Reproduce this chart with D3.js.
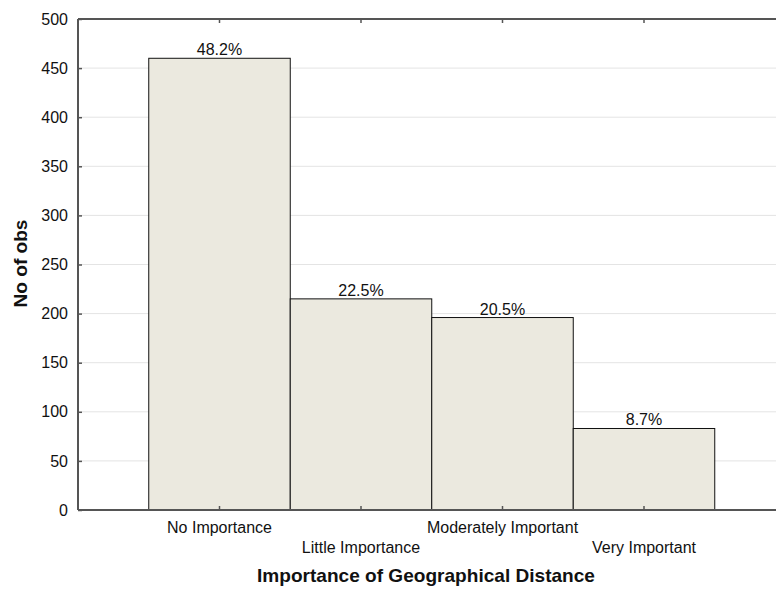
<!DOCTYPE html>
<html>
<head>
<meta charset="utf-8">
<script src="https://cdn.jsdelivr.net/npm/d3@7"></script>
<style>
  html, body { margin: 0; padding: 0; background: #fff; }
  svg { display: block; font-family: Arial, "Liberation Sans", sans-serif; }
</style>
</head>
<body>
<svg id="chart" width="776" height="590"></svg>
<script>
const categories = ["No Importance", "Little Importance", "Moderately Important", "Very Important"];
const counts = [460, 215, 196, 83];
const percentLabels = ["48.2%", "22.5%", "20.5%", "8.7%"];
const yTicks = [0, 50, 100, 150, 200, 250, 300, 350, 400, 450, 500];
const xTitle = "Importance of Geographical Distance";
const yTitle = "No of obs";

const svg = d3.select("#chart");
const plotLeft = 78, plotTop = 19, plotBottom = 510, plotRightEnd = 785.5;
const labelSize = 16;

// bars centered at 1..4 on a continuous axis starting at 0
const x = d3.scaleLinear().domain([0, 5]).range([plotLeft, plotRightEnd]);
const y = d3.scaleLinear().domain([0, 500]).range([plotBottom, plotTop]);

// gridlines
svg.append("g").selectAll("line").data(yTicks.filter(d => d > 0 && d < 500)).join("line")
  .attr("x1", plotLeft).attr("x2", 776)
  .attr("y1", d => y(d)).attr("y2", d => y(d))
  .attr("stroke", "#e4e4e4").attr("stroke-width", 1);

// bars
svg.append("g").selectAll("rect").data(counts).join("rect")
  .attr("x", (d, i) => x(i + 0.5))
  .attr("y", d => y(d))
  .attr("width", (d, i) => x(i + 1.5) - x(i + 0.5))
  .attr("height", d => y(0) - y(d))
  .attr("fill", "#ebe9df")
  .attr("stroke", "#111")
  .attr("stroke-width", 1);

// percent labels
svg.append("g").selectAll("text").data(counts).join("text")
  .attr("x", (d, i) => x(i + 1))
  .attr("y", d => y(d) - 3)
  .attr("text-anchor", "middle")
  .attr("font-size", labelSize)
  .attr("fill", "#111")
  .text((d, i) => percentLabels[i]);

// frame lines
svg.append("line").attr("x1", plotLeft).attr("x2", 776).attr("y1", plotTop).attr("y2", plotTop)
  .attr("stroke", "#555").attr("stroke-width", 2);
svg.append("line").attr("x1", plotLeft).attr("x2", 776).attr("y1", plotBottom).attr("y2", plotBottom)
  .attr("stroke", "#555").attr("stroke-width", 2);
svg.append("line").attr("x1", plotLeft).attr("x2", plotLeft).attr("y1", plotTop).attr("y2", plotBottom)
  .attr("stroke", "#555").attr("stroke-width", 2);

// y axis ticks & labels
const yAxis = d3.axisLeft(y).tickValues(yTicks).tickSize(-4).tickPadding(10);
const gy = svg.append("g").attr("transform", `translate(${plotLeft},0)`).call(yAxis);
gy.select(".domain").remove();
gy.selectAll(".tick line").attr("stroke", "#555").attr("stroke-width", 1.5);
gy.selectAll(".tick text").attr("font-size", labelSize).attr("fill", "#111")
  .attr("font-family", "Arial, 'Liberation Sans', sans-serif");

// x axis ticks (inside, bottom and top)
const xCenters = categories.map((c, i) => i + 1);
svg.append("g").selectAll("line").data(xCenters).join("line")
  .attr("x1", d => x(d)).attr("x2", d => x(d))
  .attr("y1", plotBottom).attr("y2", plotBottom - 4)
  .attr("stroke", "#555").attr("stroke-width", 1.5);
svg.append("g").selectAll("line").data(xCenters).join("line")
  .attr("x1", d => x(d)).attr("x2", d => x(d))
  .attr("y1", plotTop).attr("y2", plotTop + 4)
  .attr("stroke", "#555").attr("stroke-width", 1.5);

// x tick labels, staggered
svg.append("g").selectAll("text").data(categories).join("text")
  .attr("x", (d, i) => x(i + 1))
  .attr("y", (d, i) => i % 2 === 0 ? 533 : 553)
  .attr("text-anchor", "middle")
  .attr("font-size", labelSize)
  .attr("fill", "#111")
  .text(d => d);

// axis titles (slightly widened glyphs as in the reference)
svg.append("text")
  .attr("transform", "translate(426,582) scale(1.06,1)")
  .attr("text-anchor", "middle")
  .attr("font-size", 18).attr("font-weight", "bold").attr("fill", "#111")
  .text(xTitle);

svg.append("text")
  .attr("transform", `translate(27,${(plotTop + plotBottom) / 2 - 1}) rotate(-90) scale(1.06,1)`)
  .attr("text-anchor", "middle")
  .attr("font-size", 18).attr("font-weight", "bold").attr("fill", "#111")
  .text(yTitle);
</script>
</body>
</html>
